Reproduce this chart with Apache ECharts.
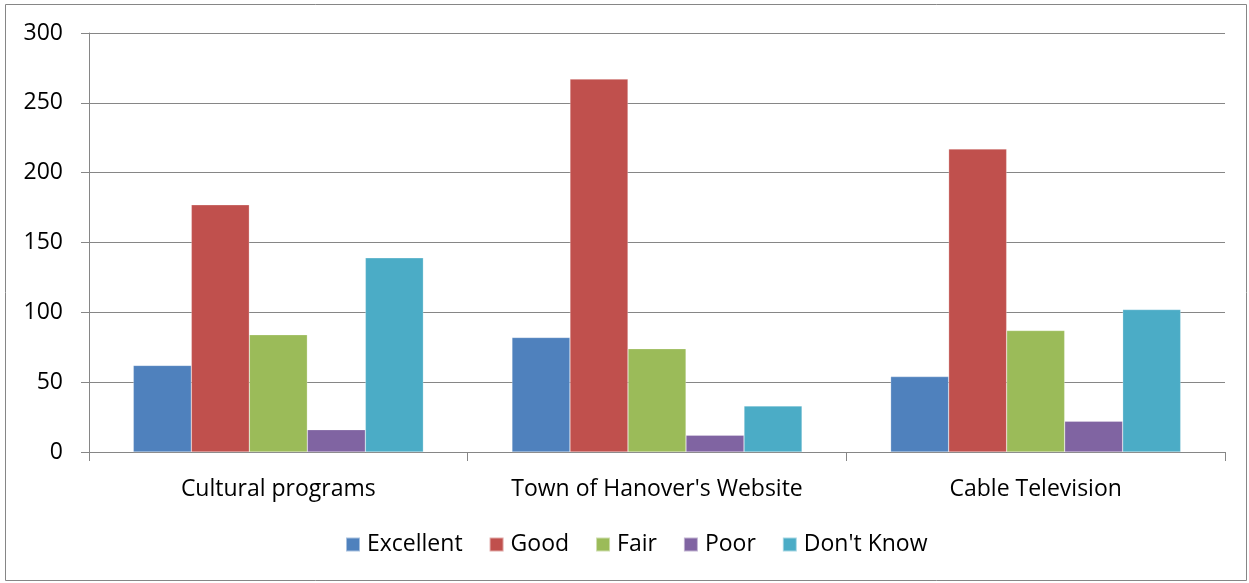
<!DOCTYPE html>
<html>
<head>
    <meta charset="UTF-8"/>
    <title>chart</title>
    <script src="https://cdn.jsdelivr.net/npm/echarts@6/dist/echarts.min.js"></script>
    <style>
        html, body { margin: 0; padding: 0; background: #fff; }
        #main { width: 1249px; height: 583px; }
    </style>
</head>
<body>
<div id="main"></div>
<script>
    var categories = ["Cultural programs", "Town of Hanover's Website", "Cable Television"];
    var seriesNames = ["Excellent", "Good", "Fair", "Poor", "Don't Know"];
    var excellent = [62, 82, 54];
    var good = [177, 267, 217];
    var fair = [84, 74, 87];
    var poor = [16, 12, 22];
    var dontKnow = [139, 33, 102];
    var colors = ["#4F81BD", "#C0504D", "#9BBB59", "#8064A2", "#4BACC6"];

    var values = [excellent, good, fair, poor, dontKnow];
    var font = "'Open Sans', 'Liberation Sans', Arial, sans-serif";

    var series = [];
    for (var i = 0; i < seriesNames.length; i++) {
        series.push({
            name: seriesNames[i],
            type: 'bar',
            data: values[i],
            barGap: '0%',
            barCategoryGap: '23.4%',
            itemStyle: { color: colors[i], borderColor: 'rgba(255,255,255,0.5)', borderWidth: 0.5 }
        });
    }

    var chart = echarts.init(document.getElementById('main'));
    chart.setOption({
        animation: false,
        textStyle: { fontFamily: font },
        graphic: [{
            type: 'rect',
            shape: { x: 5.5, y: 4.5, width: 1241, height: 576 },
            style: { fill: 'none', stroke: '#868686', lineWidth: 1 },
            silent: true
        }],
        grid: { left: 89, right: 24, top: 33, bottom: 131 },
        legend: {
            bottom: 22,
            left: 340,
            itemWidth: 14,
            itemHeight: 14,
            itemGap: 26,
            icon: 'rect',
            textStyle: { fontSize: 23, color: '#000', fontFamily: font, padding: [0, 0, 0, 2] },
            data: seriesNames
        },
        xAxis: {
            type: 'category',
            data: categories,
            axisLine: { lineStyle: { color: '#868686', width: 1 } },
            axisTick: { show: true, interval: 0, length: 9, alignWithLabel: false, lineStyle: { color: '#868686' } },
            axisLabel: { interval: 0, fontSize: 23, color: '#000', margin: 26, fontFamily: font }
        },
        yAxis: {
            type: 'value',
            min: 0,
            max: 300,
            interval: 50,
            axisLine: { show: true, lineStyle: { color: '#868686', width: 1 } },
            axisTick: { show: true, length: 8, lineStyle: { color: '#868686' } },
            axisLabel: { fontSize: 23, color: '#000', margin: 26, fontFamily: font },
            splitLine: { lineStyle: { color: '#868686', width: 1 } }
        },
        series: series
    });
</script>
</body>
</html>
